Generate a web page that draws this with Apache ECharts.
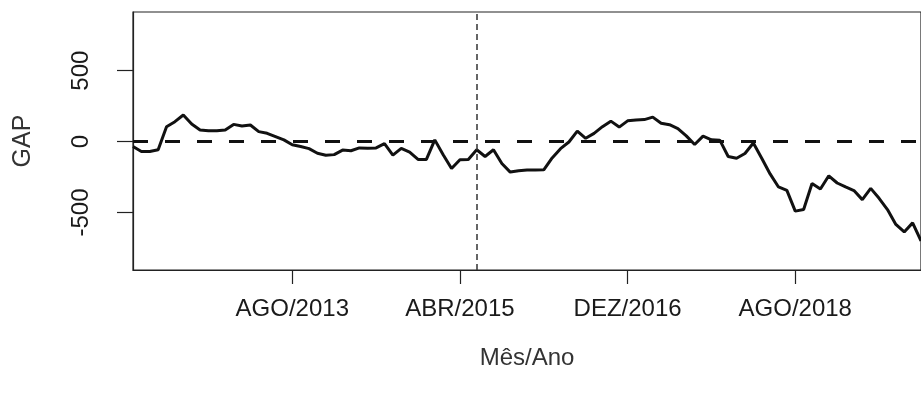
<!DOCTYPE html>
<html>
<head>
<meta charset="utf-8">
<script src="https://cdn.jsdelivr.net/npm/echarts@6/dist/echarts.min.js"></script>
<style>
  html, body { margin: 0; padding: 0; background: #fff; }
  #chart { width: 921px; height: 396px; }
</style>
</head>
<body>
<div id="chart"></div>
<script>
// Monthly GAP series, JAN/2012 onwards
const months = [
  'JAN/2012','FEV/2012','MAR/2012','ABR/2012','MAI/2012','JUN/2012','JUL/2012','AGO/2012','SET/2012','OUT/2012','NOV/2012','DEZ/2012',
  'JAN/2013','FEV/2013','MAR/2013','ABR/2013','MAI/2013','JUN/2013','JUL/2013','AGO/2013','SET/2013','OUT/2013','NOV/2013','DEZ/2013',
  'JAN/2014','FEV/2014','MAR/2014','ABR/2014','MAI/2014','JUN/2014','JUL/2014','AGO/2014','SET/2014','OUT/2014','NOV/2014','DEZ/2014',
  'JAN/2015','FEV/2015','MAR/2015','ABR/2015','MAI/2015','JUN/2015','JUL/2015','AGO/2015','SET/2015','OUT/2015','NOV/2015','DEZ/2015',
  'JAN/2016','FEV/2016','MAR/2016','ABR/2016','MAI/2016','JUN/2016','JUL/2016','AGO/2016','SET/2016','OUT/2016','NOV/2016','DEZ/2016',
  'JAN/2017','FEV/2017','MAR/2017','ABR/2017','MAI/2017','JUN/2017','JUL/2017','AGO/2017','SET/2017','OUT/2017','NOV/2017','DEZ/2017',
  'JAN/2018','FEV/2018','MAR/2018','ABR/2018','MAI/2018','JUN/2018','JUL/2018','AGO/2018','SET/2018','OUT/2018','NOV/2018','DEZ/2018',
  'JAN/2019','FEV/2019','MAR/2019','ABR/2019','MAI/2019','JUN/2019','JUL/2019','AGO/2019','SET/2019','OUT/2019','NOV/2019'
];

const gap = [
  -35, -70, -70, -58, 105, 140, 187, 124, 82, 77, 77, 82,
  121, 110, 117, 70, 58, 35, 12, -23, -35, -50, -82, -96,
  -92, -60, -65, -45, -47, -45, -15, -95, -48, -75, -126, -126,
  12, -93, -190, -128, -126, -58, -105, -58, -155, -215, -205, -200,
  -200, -199, -115, -50, -3, 74, 23, 58, 105, 144, 102, 146,
  152, 155, 172, 129, 119, 92, 40, -21, 38, 12, 10, -105,
  -118, -84, -10, -117, -228, -320, -344, -490, -479, -295, -334, -241,
  -292, -320, -345, -409, -330, -400, -479, -584, -637, -573, -700
];

// Reference lines: zero level and the marked month
const zeroLevel = 0;
const markedMonth = 'JUN/2015';

// Labelled months on the x axis
const xTickLabels = ['AGO/2013', 'ABR/2015', 'DEZ/2016', 'AGO/2018'];
const yTickValues = [-500, 0, 500];

const FONT = "'Liberation Sans', Arial, Helvetica, sans-serif";
const INK = '#1a1a1a';

const showMonth = (idx) => xTickLabels.indexOf(months[idx]) !== -1;

const chart = echarts.init(document.getElementById('chart'), null, { renderer: 'canvas' });

chart.setOption({
  animation: false,
  backgroundColor: '#ffffff',
  grid: {
    show: true,
    left: 133,
    top: 12,
    bottom: 126,
    width: 789.6,
    borderColor: '#222',
    borderWidth: 1.2,
    containLabel: false
  },
  xAxis: {
    type: 'category',
    data: months,
    boundaryGap: false,
    name: 'Mês/Ano',
    nameLocation: 'middle',
    nameGap: 76,
    nameTextStyle: { fontFamily: FONT, fontSize: 24, color: '#333' },
    axisLine: { show: true, onZero: false, lineStyle: { color: '#222', width: 1.2 } },
    axisTick: {
      show: true,
      inside: false,
      length: 14,
      interval: (idx) => showMonth(idx),
      lineStyle: { color: '#222', width: 1.2 }
    },
    axisLabel: {
      interval: (idx) => showMonth(idx),
      margin: 27,
      fontFamily: FONT,
      fontSize: 24,
      color: INK
    },
    splitLine: { show: false }
  },
  yAxis: {
    type: 'value',
    min: -905,
    max: 913,
    name: 'GAP',
    nameLocation: 'middle',
    nameGap: 97,
    nameTextStyle: { fontFamily: FONT, fontSize: 25, color: '#333' },
    axisLine: { show: true, lineStyle: { color: '#222', width: 1.2 } },
    axisTick: {
      show: true,
      inside: false,
      length: 16,
      customValues: yTickValues,
      lineStyle: { color: '#222', width: 1.2 }
    },
    axisLabel: {
      customValues: yTickValues,
      rotate: 90,
      margin: 40,
      fontFamily: FONT,
      fontSize: 24,
      color: INK
    },
    splitLine: { show: false }
  },
  series: [{
    type: 'line',
    data: gap,
    showSymbol: false,
    symbol: 'none',
    lineStyle: { color: '#111', width: 3 },
    clip: true,
    z: 3,
    markLine: {
      silent: true,
      symbol: ['none', 'none'],
      label: { show: false },
      animation: false,
      data: [
        { yAxis: zeroLevel, lineStyle: { type: [15, 17], color: '#111', width: 3 } },
        { xAxis: markedMonth, lineStyle: { type: [6, 4], color: '#333', width: 1.5 } }
      ]
    }
  }]
});
</script>
</body>
</html>
